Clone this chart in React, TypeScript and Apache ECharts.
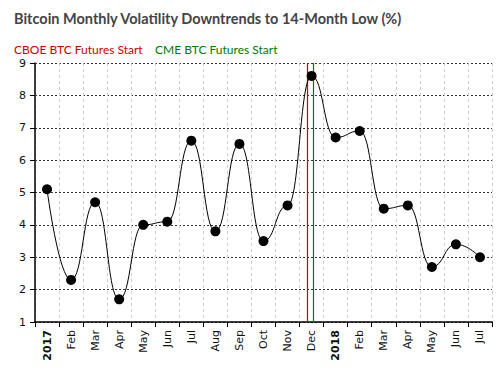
import React, { useEffect, useRef } from "react";
import * as echarts from "echarts";

const months = ["2017", "Feb", "Mar", "Apr", "May", "Jun", "Jul", "Aug", "Sep", "Oct", "Nov", "Dec",
  "2018", "Feb", "Mar", "Apr", "May", "Jun", "Jul"];
const volatility = [5.1, 2.3, 4.7, 1.7, 4.0, 4.1, 6.6, 3.8, 6.5, 3.5, 4.6, 8.6, 6.7, 6.9, 4.5, 4.6, 2.7, 3.4, 3.0];
const yTicks = { min: 1, max: 9, interval: 1 };
const startYear = 2017;
const events = [
  { name: "CBOE BTC Futures Start", date: "2017-12-10", color: "#cc0000" },
  { name: "CME BTC Futures Start", date: "2017-12-18", color: "#007a00" },
];

function eventPos(date: string): number {
  const [y, m, d] = date.split("-").map(Number);
  const idx = (y - startYear) * 12 + (m - 1);
  const days = new Date(y, m, 0).getDate();
  return idx + d / days;
}

export default function App() {
  const ref = useRef<HTMLDivElement>(null);
  useEffect(() => {
    document.body.style.margin = "0";
    const chart = echarts.init(ref.current!, null, { renderer: "svg" });
    const axisFont = "DejaVu Sans, Verdana, sans-serif";
    chart.setOption({
      animation: false,
      backgroundColor: "#fff",
      title: [
        {
          text: "Bitcoin Monthly Volatility Downtrends to 14-Month Low (%)",
          left: 9,
          top: 6,
          textStyle: { fontFamily: "Lato", fontSize: 14.5, fontWeight: "bold", color: "#444" },
        },
        {
          text: events[0].name,
          left: 9,
          top: 38,
          textStyle: { fontFamily: "Lato", fontSize: 12, fontWeight: "normal", color: events[0].color },
        },
        {
          text: events[1].name,
          left: 150,
          top: 38,
          textStyle: { fontFamily: "Lato", fontSize: 12, fontWeight: "normal", color: events[1].color },
        },
      ],
      grid: { left: 35, right: 9, top: 63, bottom: 56, containLabel: false },
      xAxis: [
        {
          type: "category",
          data: months,
          boundaryGap: true,
          axisLine: { lineStyle: { color: "#000", width: 1.5 } },
          axisTick: { show: true, length: 5, lineStyle: { color: "#000" } },
          axisLabel: {
            rotate: 90,
            interval: 0,
            margin: 8,
            color: "#111",
            fontFamily: axisFont,
            fontSize: 11,
            formatter: (v: string) => (/^\d{4}$/.test(v) ? "{b|" + v + "}" : v),
            rich: { b: { fontWeight: "bold", fontFamily: axisFont, fontSize: 11, color: "#111" } },
          },
          splitLine: { show: true, lineStyle: { color: "#ccc", type: [3, 3] } },
        },
        {
          type: "value",
          min: 0,
          max: months.length,
          show: false,
          splitLine: { show: false },
        },
      ],
      yAxis: {
        type: "value",
        min: yTicks.min,
        max: yTicks.max,
        interval: yTicks.interval,
        axisLine: { show: true, lineStyle: { color: "#000", width: 1.5 } },
        axisTick: { show: true, length: 5, lineStyle: { color: "#000" } },
        axisLabel: { color: "#111", fontFamily: axisFont, fontSize: 11, margin: 9 },
        splitLine: { show: true, lineStyle: { color: "#333", type: [2, 2] } },
      },
      series: [
        {
          type: "line",
          xAxisIndex: 1,
          data: [],
          markLine: {
            symbol: "none",
            silent: true,
            label: { show: false },
            data: events.map((e) => ({
              xAxis: eventPos(e.date),
              lineStyle: { color: e.color, width: 1.2, type: "solid" },
            })),
          },
        },
        {
          type: "line",
          data: volatility,
          smooth: 0.5,
          smoothMonotone: "x",
          symbol: "circle",
          symbolSize: 10,
          itemStyle: { color: "#000" },
          lineStyle: { color: "#000", width: 1 },
          z: 5,
        },
      ],
    });
    return () => chart.dispose();
  }, []);
  return <div ref={ref} style={{ width: 501, height: 378 }} />;
}
